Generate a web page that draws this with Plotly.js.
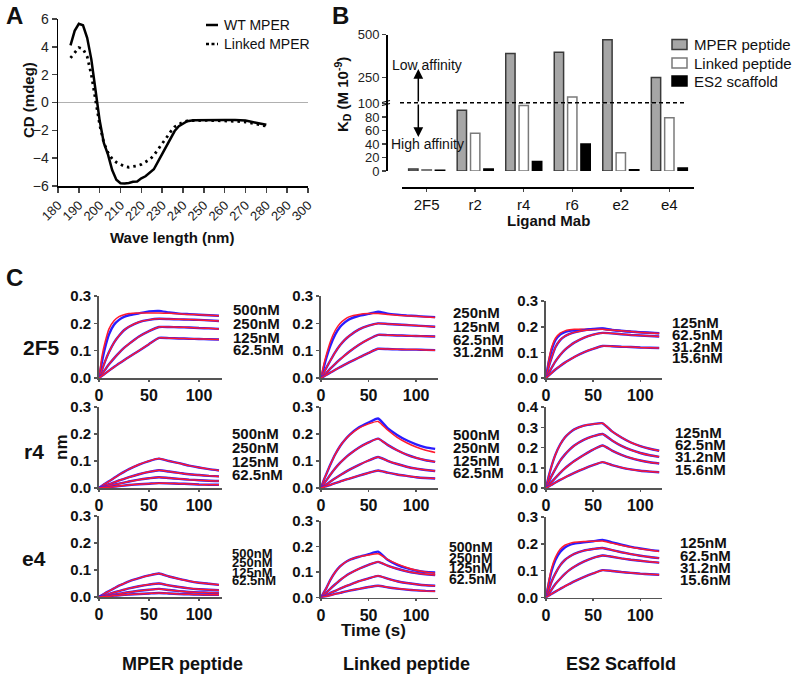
<!DOCTYPE html>
<html><head><meta charset="utf-8">
<script src="https://cdn.plot.ly/plotly-3.0.1.min.js"></script>
<style>html,body{margin:0;padding:0;background:#fff}#plot{width:797px;height:680px}</style>
</head><body><div id="plot"></div>
<script>
// ---------- Panel A data (CD spectra) ----------
const wavelength = [186,188,190,192,194,196,198,200,202,204,206,208,210,212,214,216,218,220,222,224,226,228,230,232,234,236,238,240,242,245,250,255,260,265,270,275,280];
const wtMPER = [4.1,5.15,5.65,5.55,4.65,3.1,0.9,-1.3,-2.9,-3.75,-4.85,-5.55,-5.8,-5.82,-5.78,-5.7,-5.68,-5.45,-5.3,-5.05,-4.8,-4.25,-3.7,-3.15,-2.55,-2.05,-1.7,-1.5,-1.35,-1.27,-1.25,-1.22,-1.25,-1.25,-1.3,-1.45,-1.6];
const linkedMPER = [3.2,3.55,3.95,3.85,3.3,2.0,0.2,-1.6,-2.9,-3.6,-4.05,-4.3,-4.45,-4.6,-4.65,-4.62,-4.55,-4.45,-4.3,-4.1,-3.8,-3.35,-2.95,-2.55,-2.1,-1.75,-1.55,-1.4,-1.32,-1.3,-1.28,-1.3,-1.3,-1.35,-1.4,-1.55,-1.7];
const seriesA = ['WT MPER','Linked MPER'];

// ---------- Panel B data (KD) ----------
const ligands = ['2F5','r2','r4','r6','e2','e4'];
const kdMPER = [3,90,390,397,470,250];
const kdLinked = [2,56,97,137,27,79];
const kdES2 = [1,3,14,40,2,4.5];
const seriesB = ['MPER peptide','Linked peptide','ES2 scaffold'];

// ---------- Panel C data (sensorgrams) ----------
const T = [0,3,6,10,15,20,25,30,40,50,60,70,80,90,100,110,120];
const concPeptide = ['500nM','250nM','125nM','62.5nM'];
const concLinked2F5 = ['250nM','125nM','62.5nM','31.2nM'];
const concES2 = ['125nM','62.5nM','31.2nM','15.6nM'];

const m2f5_500 = [0,0.08,0.13,0.18,0.21,0.225,0.232,0.236,0.238,0.238,0.238,0.237,0.235,0.233,0.232,0.230,0.228];
const m2f5_250 = [0,0.03,0.06,0.095,0.13,0.155,0.175,0.188,0.205,0.213,0.217,0.216,0.215,0.214,0.213,0.211,0.209];
const m2f5_125 = [0,0.015,0.03,0.05,0.072,0.092,0.11,0.125,0.152,0.172,0.187,0.187,0.186,0.185,0.183,0.182,0.18];
const m2f5_62 = [0,0.008,0.016,0.027,0.04,0.053,0.065,0.077,0.1,0.124,0.147,0.146,0.145,0.144,0.143,0.142,0.141];
const obs_m2f5_500 = [0,0.06,0.11,0.16,0.195,0.213,0.224,0.23,0.237,0.244,0.246,0.24,0.236,0.234,0.232,0.23,0.228];

const mr4_500 = [0,0.008,0.016,0.025,0.037,0.049,0.06,0.07,0.087,0.1,0.109,0.1,0.092,0.083,0.076,0.07,0.065];
const mr4_250 = [0,0.004,0.009,0.014,0.021,0.028,0.034,0.04,0.051,0.06,0.066,0.061,0.056,0.051,0.048,0.045,0.043];
const mr4_125 = [0,0.002,0.005,0.008,0.012,0.016,0.02,0.024,0.031,0.036,0.04,0.037,0.034,0.031,0.029,0.027,0.026];
const mr4_62 = [0,0.001,0.002,0.003,0.005,0.007,0.009,0.011,0.014,0.016,0.018,0.017,0.016,0.015,0.013,0.012,0.012];

const me4_500 = [0,0.007,0.014,0.022,0.032,0.042,0.05,0.058,0.07,0.08,0.087,0.076,0.067,0.059,0.053,0.049,0.045];
const me4_250 = [0,0.003,0.007,0.011,0.017,0.022,0.027,0.032,0.04,0.046,0.05,0.043,0.037,0.032,0.029,0.027,0.025];
const me4_125 = [0,0.002,0.004,0.006,0.009,0.012,0.015,0.018,0.023,0.027,0.03,0.026,0.022,0.019,0.017,0.016,0.015];
const me4_62 = [0,0.001,0.002,0.003,0.005,0.006,0.008,0.009,0.011,0.013,0.015,0.013,0.011,0.01,0.009,0.008,0.008];

const l2f5_250 = [0,0.05,0.09,0.135,0.175,0.2,0.215,0.225,0.233,0.236,0.236,0.233,0.23,0.228,0.226,0.224,0.222];
const l2f5_125 = [0,0.02,0.04,0.065,0.095,0.12,0.14,0.155,0.178,0.192,0.2,0.198,0.196,0.194,0.192,0.19,0.188];
const l2f5_62 = [0,0.01,0.02,0.035,0.052,0.068,0.083,0.097,0.122,0.142,0.158,0.157,0.156,0.155,0.154,0.153,0.152];
const l2f5_31 = [0,0.006,0.012,0.02,0.03,0.04,0.049,0.058,0.075,0.092,0.107,0.106,0.105,0.104,0.104,0.103,0.102];
const obs_l2f5_250 = [0,0.04,0.078,0.12,0.16,0.187,0.204,0.216,0.228,0.235,0.243,0.236,0.232,0.229,0.227,0.225,0.223];

const lr4_500 = [0,0.03,0.055,0.088,0.125,0.155,0.178,0.196,0.222,0.238,0.247,0.215,0.188,0.168,0.152,0.14,0.132];
const lr4_250 = [0,0.015,0.03,0.05,0.073,0.093,0.11,0.125,0.15,0.169,0.183,0.16,0.14,0.124,0.112,0.103,0.097];
const lr4_125 = [0,0.007,0.014,0.024,0.036,0.047,0.058,0.068,0.086,0.102,0.115,0.101,0.089,0.079,0.072,0.067,0.063];
const lr4_62 = [0,0.004,0.007,0.012,0.018,0.024,0.03,0.035,0.046,0.056,0.065,0.057,0.05,0.045,0.04,0.037,0.035];
const obs_lr4_500 = [0,0.03,0.055,0.088,0.125,0.155,0.178,0.197,0.225,0.243,0.258,0.222,0.197,0.177,0.162,0.151,0.145];

const le4_500 = [0,0.02,0.04,0.07,0.1,0.122,0.137,0.148,0.16,0.167,0.172,0.15,0.132,0.118,0.107,0.1,0.095];
const le4_250 = [0,0.01,0.02,0.035,0.052,0.068,0.082,0.094,0.113,0.128,0.14,0.125,0.113,0.103,0.096,0.091,0.088];
const le4_125 = [0,0.005,0.01,0.018,0.026,0.035,0.043,0.05,0.064,0.075,0.085,0.074,0.064,0.057,0.052,0.048,0.046];
const le4_62 = [0,0.003,0.005,0.009,0.014,0.018,0.023,0.027,0.034,0.041,0.046,0.04,0.035,0.031,0.028,0.026,0.025];
const obs_le4_500 = [0,0.02,0.04,0.07,0.1,0.122,0.137,0.148,0.16,0.17,0.18,0.148,0.128,0.115,0.106,0.1,0.098];

const e2f5_125 = [0,0.07,0.12,0.155,0.175,0.184,0.188,0.19,0.19,0.19,0.19,0.187,0.184,0.181,0.179,0.177,0.175];
const e2f5_62 = [0,0.045,0.08,0.12,0.148,0.163,0.172,0.178,0.185,0.189,0.19,0.187,0.184,0.181,0.178,0.176,0.174];
const e2f5_31 = [0,0.02,0.04,0.065,0.09,0.11,0.125,0.138,0.157,0.169,0.176,0.174,0.171,0.168,0.166,0.164,0.162];
const e2f5_15 = [0,0.01,0.02,0.033,0.047,0.06,0.071,0.082,0.1,0.114,0.125,0.124,0.122,0.121,0.119,0.118,0.117];
const obs_e2f5_125 = [0,0.065,0.11,0.148,0.17,0.179,0.184,0.186,0.188,0.19,0.192,0.187,0.184,0.181,0.179,0.177,0.175];
const obs_e2f5_62 = [0,0.045,0.08,0.12,0.148,0.163,0.172,0.178,0.186,0.191,0.193,0.188,0.184,0.181,0.178,0.176,0.174];

const er4_125 = [0,0.06,0.11,0.165,0.215,0.25,0.273,0.29,0.308,0.316,0.32,0.28,0.25,0.225,0.207,0.194,0.184];
const er4_62 = [0,0.03,0.06,0.095,0.135,0.165,0.19,0.21,0.238,0.256,0.267,0.235,0.208,0.188,0.173,0.162,0.154];
const er4_31 = [0,0.015,0.03,0.05,0.075,0.097,0.116,0.133,0.163,0.19,0.21,0.185,0.164,0.148,0.136,0.127,0.121];
const er4_15 = [0,0.008,0.016,0.027,0.04,0.052,0.064,0.075,0.095,0.113,0.128,0.113,0.101,0.092,0.085,0.081,0.078];

const ee4_125 = [0,0.06,0.11,0.15,0.18,0.195,0.202,0.206,0.209,0.21,0.211,0.203,0.195,0.188,0.182,0.177,0.172];
const ee4_62 = [0,0.03,0.06,0.09,0.12,0.14,0.153,0.163,0.175,0.181,0.185,0.177,0.169,0.162,0.156,0.151,0.147];
const ee4_31 = [0,0.015,0.03,0.05,0.07,0.088,0.103,0.115,0.134,0.148,0.157,0.152,0.146,0.141,0.137,0.133,0.13];
const ee4_15 = [0,0.007,0.014,0.022,0.032,0.042,0.051,0.06,0.076,0.09,0.102,0.099,0.095,0.092,0.089,0.087,0.085];
const obs_ee4_125 = [0,0.055,0.1,0.14,0.17,0.187,0.196,0.201,0.206,0.21,0.215,0.206,0.197,0.189,0.183,0.178,0.174];

const rowNames = ['2F5','r4','e4'];
const colNames = ['MPER peptide','Linked peptide','ES2 Scaffold'];

// panels in row-major order
const panels = [
  {fit:[m2f5_500,m2f5_250,m2f5_125,m2f5_62], obs:[obs_m2f5_500,m2f5_250,m2f5_125,m2f5_62], conc:concPeptide, ymax:0.3},
  {fit:[l2f5_250,l2f5_125,l2f5_62,l2f5_31], obs:[obs_l2f5_250,l2f5_125,l2f5_62,l2f5_31], conc:concLinked2F5, ymax:0.3},
  {fit:[e2f5_125,e2f5_62,e2f5_31,e2f5_15], obs:[obs_e2f5_125,obs_e2f5_62,e2f5_31,e2f5_15], conc:concES2, ymax:0.3},
  {fit:[mr4_500,mr4_250,mr4_125,mr4_62], obs:[mr4_500,mr4_250,mr4_125,mr4_62], conc:concPeptide, ymax:0.3},
  {fit:[lr4_500,lr4_250,lr4_125,lr4_62], obs:[obs_lr4_500,lr4_250,lr4_125,lr4_62], conc:concPeptide, ymax:0.3},
  {fit:[er4_125,er4_62,er4_31,er4_15], obs:[er4_125,er4_62,er4_31,er4_15], conc:concES2, ymax:0.4},
  {fit:[me4_500,me4_250,me4_125,me4_62], obs:[me4_500,me4_250,me4_125,me4_62], conc:concPeptide, ymax:0.3},
  {fit:[le4_500,le4_250,le4_125,le4_62], obs:[obs_le4_500,le4_250,le4_125,le4_62], conc:concPeptide, ymax:0.3},
  {fit:[ee4_125,ee4_62,ee4_31,ee4_15], obs:[obs_ee4_125,ee4_62,ee4_31,ee4_15], conc:concES2, ymax:0.3}
];

// ---------- geometry (pixels) ----------
const W = 797, H = 680;
const PX = p => p / W, PY = p => 1 - p / H;
const FONT = 'Liberation Sans, Arial, Helvetica, sans-serif';
const geo = [
  {x:[99,222], y:[296,378], lx:231, ly:[310,323.5,337,350], fs:15},
  {x:[321,438], y:[296,378], lx:451, ly:[312.7,326.7,339,351.7], fs:15},
  {x:[546,662], y:[301,378], lx:670, ly:[322.7,334,346,357.3], fs:15},
  {x:[99,222], y:[407,488], lx:230, ly:[434,447.7,461,474], fs:15},
  {x:[321,438], y:[407,488], lx:451, ly:[435,447.7,460,472.7], fs:15},
  {x:[546,662], y:[407,488], lx:673, ly:[432.3,444,456.7,469.3], fs:15},
  {x:[99,222], y:[516,597], lx:230, ly:[553,562.5,572,580.5], fs:13},
  {x:[321,438], y:[521,597.5], lx:447, ly:[547,557.7,568.3,579], fs:14},
  {x:[546,662], y:[517,597.5], lx:678, ly:[542.7,555,567.3,579], fs:15}
];

const traces = [];
const layout = {
  width: W, height: H, margin:{l:0,r:0,t:0,b:0},
  paper_bgcolor:'#fff', plot_bgcolor:'rgba(0,0,0,0)',
  font:{family:FONT, color:'#111'},
  showlegend:false, barmode:'group', bargap:0.175, bargroupgap:0.3,
  annotations:[], shapes:[]
};
function txt(x, y, t, size, opts) {
  layout.annotations.push(Object.assign({xref:'paper', yref:'paper', x:PX(x), y:PY(y), text:t, showarrow:false,
    xanchor:'center', yanchor:'middle', font:{size:size, color:'#111', family:FONT}}, opts || {}));
}

// ---------- Panel A ----------
const styleA = [{color:'#000', width:2.5, dash:'solid'}, {color:'#000', width:2.8, dash:'2.5px,4px'}];
[wtMPER, linkedMPER].forEach((d, i) => {
  traces.push({x:wavelength, y:d, type:'scatter', mode:'lines', name:seriesA[i],
    line:styleA[i], xaxis:'x', yaxis:'y'});
});
layout.xaxis = {domain:[PX(58),PX(308)], range:[180,300], dtick:10, tick0:180, tickangle:-45,
  anchor:'y', showline:true, linecolor:'#000', linewidth:1.5, ticks:'outside', ticklen:5, tickwidth:1.5,
  showgrid:false, zeroline:false, tickfont:{size:13, color:'#222'}};
layout.yaxis = {domain:[PY(186),PY(19)], range:[-6,6], dtick:2, anchor:'x',
  showline:true, linecolor:'#000', linewidth:1.5, ticks:'outside', ticklen:5, tickwidth:1.5,
  showgrid:false, zeroline:true, zerolinecolor:'#b0b0b0', zerolinewidth:1, tickfont:{size:14, color:'#222'}};
// legend for A
const legAy = [25, 44];
seriesA.forEach((s, i) => {
  layout.shapes.push({type:'line', xref:'paper', yref:'paper', x0:PX(206), x1:PX(218), y0:PY(legAy[i]), y1:PY(legAy[i]),
    line:{color:'#000', width:2.5, dash: i === 0 ? 'solid' : '3px,2.5px'}});
  txt(222, legAy[i], s, 14, {xanchor:'left'});
});

// ---------- Panel B (broken axis: bottom 0-100, top 100-500) ----------
const barStyles = [
  {data:kdMPER, fill:'#a6a6a6', line:'#3a3a3a'},
  {data:kdLinked, fill:'#ffffff', line:'#7a7a7a'},
  {data:kdES2, fill:'#000000', line:'#000000'}
];
['y2','y3'].forEach(ya => {
  barStyles.forEach((s, i) => {
    traces.push({type:'bar', x:ligands, y:s.data, name:seriesB[i], xaxis:'x2', yaxis:ya,
      marker:{color:s.fill, line:{color:s.line, width:1.5}}, hoverinfo:'skip'});
  });
});
layout.xaxis2 = {domain:[PX(402.4),PX(693.6)], type:'category', range:[-0.5,5.5], anchor:'free', position:PY(187),
  showline:true, linecolor:'#000', linewidth:1.5, ticks:'outside', ticklen:3, tickwidth:1.5,
  showgrid:false, zeroline:false, tickfont:{size:15, color:'#111'}};
layout.yaxis2 = {domain:[PY(171),PY(103.5)], range:[0,100], tickvals:[0,20,40,60,80], anchor:'free', position:PX(386),
  showline:true, linecolor:'#000', linewidth:1.5, ticks:'outside', ticklen:4, tickwidth:1.5,
  showgrid:false, zeroline:false, tickfont:{size:13, color:'#222'}};
layout.yaxis3 = {domain:[PY(103.5),PY(34.5)], range:[100,500], tickvals:[100,250,500], anchor:'free', position:PX(386),
  showline:true, linecolor:'#000', linewidth:1.5, ticks:'outside', ticklen:4, tickwidth:1.5,
  showgrid:false, zeroline:false, tickfont:{size:13, color:'#222'}};
// legend for B
const legBy = [44.5, 63, 81];
seriesB.forEach((s, i) => {
  layout.shapes.push({type:'rect', xref:'paper', yref:'paper', x0:PX(672), x1:PX(687), y0:PY(legBy[i]+5), y1:PY(legBy[i]-5),
    fillcolor:barStyles[i].fill, line:{color:barStyles[i].line, width:1.5}});
  txt(692, legBy[i], s, 15, {xanchor:'left'});
});
// dashed threshold line and axis break
layout.shapes.push({type:'line', xref:'paper', yref:'paper', x0:PX(400), x1:PX(686), y0:PY(102.8), y1:PY(102.8),
  line:{color:'#000', width:1.5, dash:'4px,3px'}});
layout.shapes.push({type:'line', xref:'paper', yref:'paper', x0:PX(382), x1:PX(390), y0:PY(102.5), y1:PY(100.5), line:{color:'#000', width:1.2}});
layout.shapes.push({type:'line', xref:'paper', yref:'paper', x0:PX(382), x1:PX(390), y0:PY(105.5), y1:PY(103.5), line:{color:'#000', width:1.2}});
// affinity arrows
layout.annotations.push({xref:'paper', yref:'paper', x:PX(418.3), y:PY(69), text:'', showarrow:true,
  ax:0, ay:34, arrowhead:2, arrowsize:1.3, arrowwidth:1.5, arrowcolor:'#000'});
layout.annotations.push({xref:'paper', yref:'paper', x:PX(418.3), y:PY(137), text:'', showarrow:true,
  ax:0, ay:-34, arrowhead:2, arrowsize:1.3, arrowwidth:1.5, arrowcolor:'#000'});

// ---------- Panel C ----------
panels.forEach((p, i) => {
  const xa = 'x' + (3 + i), ya = 'y' + (4 + i);
  const g = geo[i];
  p.fit.forEach((f, k) => {
    traces.push({x:T, y:p.obs[k], type:'scatter', mode:'lines', xaxis:xa, yaxis:ya,
      line:{color:'#2a1cff', width:2.4, shape:'spline', smoothing:0.5}, hoverinfo:'skip'});
    traces.push({x:T, y:f, type:'scatter', mode:'lines', xaxis:xa, yaxis:ya,
      line:{color:'#ff1a2e', width:1.5, shape:'spline', smoothing:0.5}, hoverinfo:'skip'});
  });
  const yt = p.ymax > 0.35 ? [0,0.1,0.2,0.3,0.4] : [0,0.1,0.2,0.3];
  layout['xaxis' + (3 + i)] = {domain:[PX(g.x[0]),PX(g.x[1])], range:[0,123], tickvals:[0,50,100], anchor:ya,
    showline:true, linecolor:'#555', linewidth:1.8, ticks:'outside', ticklen:2, tickwidth:1.5, tickcolor:'#555',
    showgrid:false, zeroline:false, tickfont:{size:16, weight:700, color:'#111'}};
  layout['yaxis' + (4 + i)] = {domain:[PY(g.y[1]),PY(g.y[0])], range:[0,p.ymax + 0.0005], tickvals:yt,
    ticktext:yt.map(v => v.toFixed(1)), anchor:xa,
    showline:true, linecolor:'#555', linewidth:1.8, ticks:'outside', ticklen:3, tickwidth:1.5, tickcolor:'#555',
    showgrid:false, zeroline:false, tickfont:{size:15, weight:700, color:'#111'}};
  p.conc.forEach((c, k) => {
    txt(g.lx, g.ly[k], '<b>' + c + '</b>', g.fs, {xanchor:'left'});
  });
});

// ---------- text labels ----------
txt(14, 15, '<b>A</b>', 24);
txt(340, 15, '<b>B</b>', 24);
txt(15, 277, '<b>C</b>', 24);
txt(28, 100, '<b>CD (mdeg)</b>', 15, {textangle:-90});
txt(172, 238, '<b>Wave length (nm)</b>', 15);
txt(343, 95, '<b>K<sub>D</sub> (M 10<sup>-9</sup>)</b>', 15, {textangle:-90});
txt(548, 221, '<b>Ligand Mab</b>', 15);
txt(427, 65, 'Low affinity', 14);
txt(427.5, 144, 'High affinity', 14);
rowNames.forEach((r, i) => txt(i === 0 ? 41 : 34, [347, 451, 558][i], '<b>' + r + '</b>', 21));
txt(61, 447, '<b>nm</b>', 17, {textangle:-90});
txt(373.5, 630, '<b>Time (s)</b>', 17);
colNames.forEach((c, i) => txt([182, 406, 621][i], 664, '<b>' + c + '</b>', 18));

Plotly.newPlot('plot', traces, layout, {displayModeBar:false, staticPlot:true});
</script></body></html>
